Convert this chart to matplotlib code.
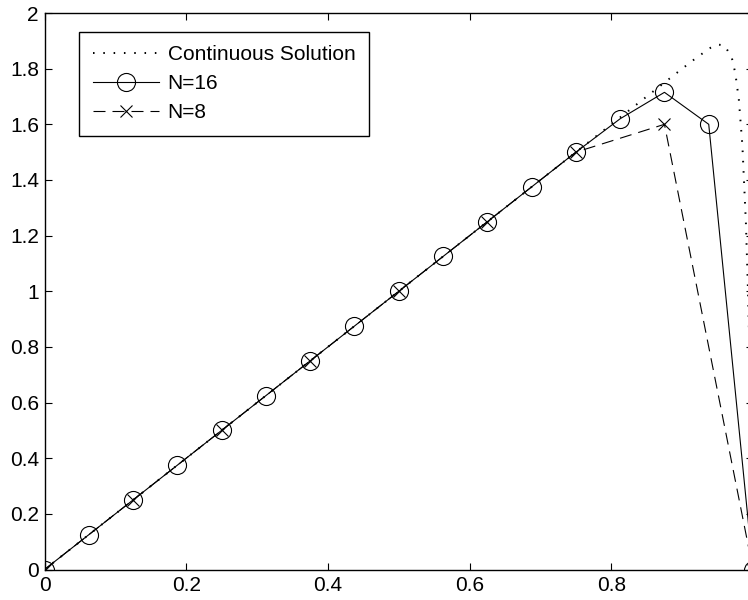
import matplotlib
matplotlib.use("Agg")
import matplotlib.pyplot as plt

# continuous solution, sampled along the curve
x_cont = [0.0, 0.1, 0.2, 0.3, 0.4, 0.5, 0.6, 0.7, 0.8, 0.85, 0.9, 0.92,
          0.94, 0.95, 0.96, 0.97, 0.975, 0.98, 0.985, 0.99, 0.993, 0.995,
          0.997, 0.999, 1.0]
y_cont = [0.0, 0.2, 0.4, 0.6, 0.8, 1.0, 1.2, 1.4, 1.6, 1.70, 1.80, 1.839,
          1.875, 1.887, 1.883, 1.840, 1.784, 1.689, 1.524, 1.244, 0.994, 0.777,
          0.513, 0.190, 0.0]

# discrete solution, 16 intervals
x_n16 = [0.0, 0.0625, 0.125, 0.1875, 0.25, 0.3125, 0.375, 0.4375, 0.5,
         0.5625, 0.625, 0.6875, 0.75, 0.8125, 0.875, 0.9375, 1.0]
y_n16 = [0.0, 0.125, 0.25, 0.375, 0.5, 0.625, 0.75, 0.875, 1.0,
         1.125, 1.25, 1.375, 1.5, 1.62, 1.715, 1.60, 0.0]

# discrete solution, 8 intervals
x_n8 = [0.0, 0.125, 0.25, 0.375, 0.5, 0.625, 0.75, 0.875, 1.0]
y_n8 = [0.0, 0.25, 0.5, 0.75, 1.0, 1.25, 1.5, 1.60, 0.0]

x_ticks = [0, 0.2, 0.4, 0.6, 0.8, 1.0]
x_ticklabels = ["0", "0.2", "0.4", "0.6", "0.8", ""]  # label at 1 falls off the figure
y_ticks = [0, 0.2, 0.4, 0.6, 0.8, 1.0, 1.2, 1.4, 1.6, 1.8, 2.0]
y_ticklabels = ["0", "0.2", "0.4", "0.6", "0.8", "1", "1.2", "1.4", "1.6", "1.8", "2"]

plt.rcParams['font.family'] = ['Liberation Sans', 'DejaVu Sans']

fig = plt.figure(figsize=(7.48, 6.0), dpi=100)
ax = fig.add_axes([0.0595, 0.0508, 0.9472, 0.9275])

ax.plot(x_cont, y_cont, color='black', linewidth=1.4, linestyle=(0, (0.8, 4.5)),
        label="Continuous Solution")
ax.plot(x_n16, y_n16, color='black', linewidth=0.8, marker='o', markersize=13,
        markerfacecolor='none', markeredgewidth=0.8, label="N=16")
ax.plot(x_n8, y_n8, color='black', linewidth=0.8, linestyle=(0, (10.8, 6.3)),
        marker='x', markersize=9, markeredgewidth=0.8, label="N=8")

ax.set_xlim(0, 1)
ax.set_ylim(0, 2)
ax.set_xticks(x_ticks)
ax.set_xticklabels(x_ticklabels)
ax.set_yticks(y_ticks)
ax.set_yticklabels(y_ticklabels)
ax.tick_params(direction='in', length=5, width=0.8, labelsize=15,
               top=True, right=True)
ax.tick_params(axis='x', pad=5)
ax.tick_params(axis='y', pad=4)
for s in ax.spines.values():
    s.set_linewidth(1.0)

leg = ax.legend(loc='upper left', bbox_to_anchor=(0.0487, 0.966),
                borderaxespad=0, fontsize=15, handlelength=3.2,
                handletextpad=0.4, labelspacing=0.47, borderpad=0.65,
                fancybox=False, framealpha=1, edgecolor='black')
leg.get_frame().set_linewidth(1.0)

fig.savefig("out.png", dpi=100)
